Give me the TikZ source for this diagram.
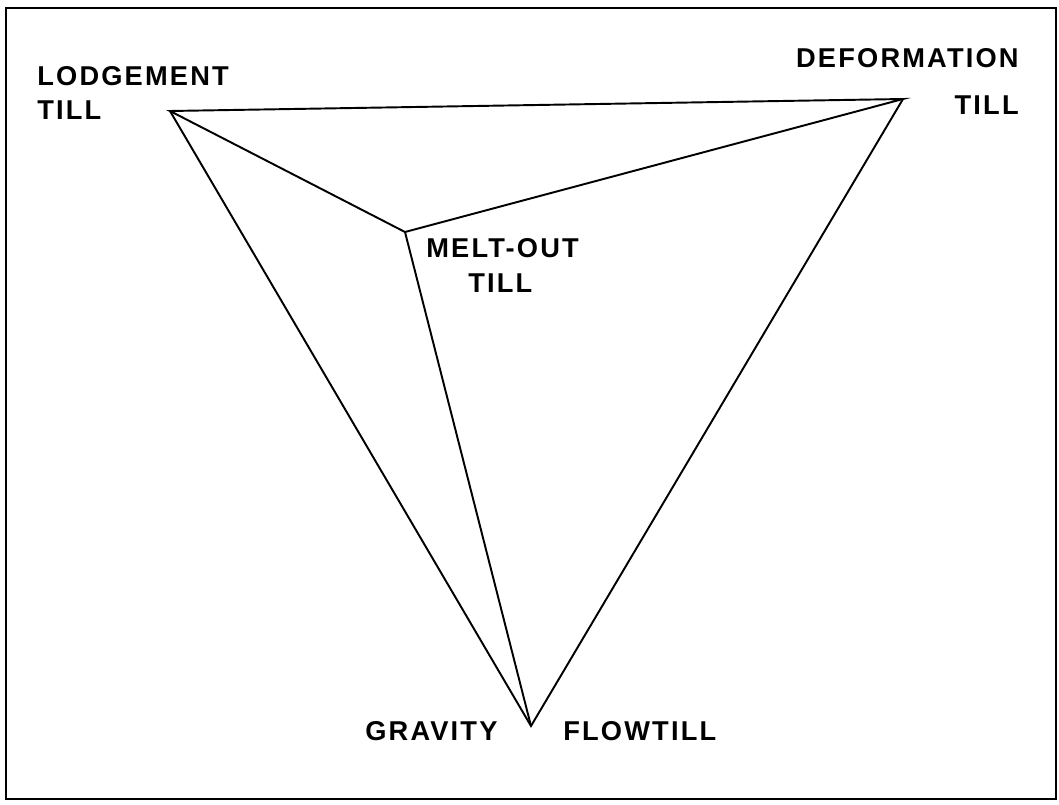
\documentclass[tikz,border=0pt]{standalone}
\usepackage{fontspec}
\setmainfont{Liberation Sans}
\newfontfamily\labfont[LetterSpace=8]{Liberation Sans}
\begin{document}
\begin{tikzpicture}[x=0.02cm,y=-0.02cm,
  lbl/.style={font=\labfont\bfseries\fontsize{15.5}{18}\selectfont, inner sep=0pt, align=left},
  edge/.style={line width=1.1pt, line join=miter}]
\useasboundingbox (0,0) rectangle (1059,805);
\draw[line width=1.3pt] (6,8) rectangle (1056,799);
\coordinate (L) at (170,111);
\coordinate (D) at (903,99);
\coordinate (M) at (405,232);
\coordinate (G) at (531,726);
\draw[edge] (L) -- (D) -- (M) -- cycle;
\draw[edge] (L) -- (G) -- (D);
\draw[edge] (M) -- (G);
\node[lbl, anchor=base west] (l1) at (37,85) {LODGEMENT};
\node[lbl, anchor=base west] (l2) at (37,119) {TILL};
\node[lbl, anchor=base east] (d1) at (1019,67) {DEFORMATION};
\node[lbl, anchor=base east] (d2) at (1019,114) {TILL};
\node[lbl, anchor=base west] (m1) at (426,257) {MELT-OUT};
\node[lbl, anchor=base west] (m2) at (468,292) {TILL};
\node[lbl, anchor=base west] (g1) at (365,740) {GRAVITY};
\node[lbl, anchor=base west] (f1) at (563,740) {FLOWTILL};
\end{tikzpicture}
\end{document}
